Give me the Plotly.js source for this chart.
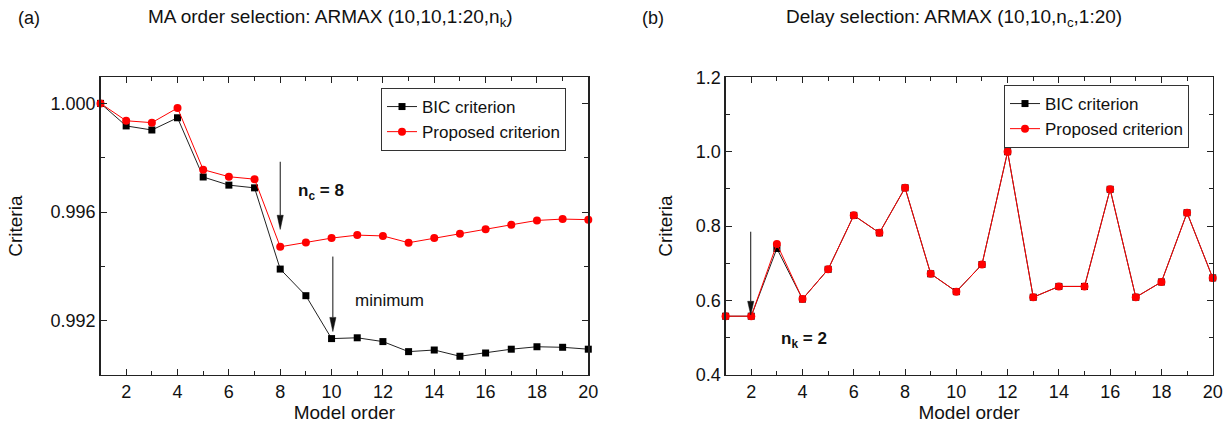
<!DOCTYPE html>
<html>
<head>
<meta charset="utf-8">
<script src="https://cdn.plot.ly/plotly-3.0.1.min.js"></script>
<style>html,body{margin:0;padding:0;background:#fff;}#chart{width:1228px;height:435px;}</style>
</head>
<body>
<div id="chart"></div>
<script>
// ---------- data ----------
const modelOrder = [1,2,3,4,5,6,7,8,9,10,11,12,13,14,15,16,17,18,19,20];

// (a) MA order selection
const maBIC = [1.0000,0.99917,0.99902,0.99947,0.99729,0.99699,0.99689,0.99390,0.99292,0.99134,
               0.99137,0.99123,0.99086,0.99092,0.99069,0.99081,0.99095,0.99104,0.99102,0.99095];
const maProposed = [1.0000,0.99936,0.99929,0.99983,0.99756,0.99730,0.99721,0.99472,0.99488,0.99504,
                    0.99515,0.99512,0.99487,0.99504,0.99520,0.99537,0.99553,0.99569,0.99574,0.99572];

// (b) Delay selection
const delayBIC = [0.558,0.558,0.740,0.604,0.684,0.829,0.782,0.903,0.672,0.624,
                  0.697,1.000,0.609,0.638,0.638,0.899,0.609,0.650,0.836,0.661];
const delayProposed = [0.558,0.558,0.752,0.604,0.684,0.829,0.782,0.903,0.672,0.624,
                       0.697,1.000,0.609,0.638,0.638,0.899,0.609,0.650,0.836,0.661];

const xTicks = [2,4,6,8,10,12,14,16,18,20];
const seriesNames = ['BIC criterion','Proposed criterion'];
const titleA = 'MA order selection: ARMAX (10,10,1:20,n<sub>k</sub>)';
const titleB = 'Delay selection: ARMAX (10,10,n<sub>c</sub>,1:20)';

// ---------- styling ----------
const FONT = 'Arial, "Liberation Sans", sans-serif';
const black = '#000000';
const red = '#ff0000';

function bicTrace(y, xa, ya, lg){
  return {x: modelOrder, y: y, xaxis: xa, yaxis: ya, legend: lg, name: seriesNames[0],
    mode: 'lines+markers', cliponaxis: false,
    line: {color: '#222', width: 1},
    marker: {symbol: 'square', size: 7, color: black}};
}
function propTrace(y, xa, ya, lg){
  return {x: modelOrder, y: y, xaxis: xa, yaxis: ya, legend: lg, name: seriesNames[1],
    mode: 'lines+markers', cliponaxis: false,
    line: {color: red, width: 1},
    marker: {symbol: 'circle', size: 8, color: red}};
}

const traces = [
  bicTrace(maBIC, 'x', 'y', 'legend'),
  propTrace(maProposed, 'x', 'y', 'legend'),
  bicTrace(delayBIC, 'x2', 'y2', 'legend2'),
  propTrace(delayProposed, 'x2', 'y2', 'legend2')
];

function xAxis(domain, anchor){
  return {domain: domain, anchor: anchor, range: [1,20], tickvals: xTicks,
    ticks: 'inside', ticklen: 6, tickwidth: 1, tickcolor: '#222',
    minor: {dtick: 1, tick0: 1, ticks: 'inside', ticklen: 4, tickcolor: '#222'},
    showline: true, linecolor: '#222', linewidth: 1.3, mirror: 'ticks',
    showgrid: false, zeroline: false,
    tickfont: {family: FONT, size: 18, color: '#111'},
    title: {text: 'Model order', font: {family: FONT, size: 19, color: '#111'}, standoff: 4}};
}
function yAxis(domain, anchor, range, tick0, dtick, mdtick, fmt, standoff){
  return {domain: domain, anchor: anchor, range: range, tick0: tick0, dtick: dtick,
    tickformat: fmt,
    ticks: 'inside', ticklen: 6, tickwidth: 1, tickcolor: '#222',
    minor: {dtick: mdtick, ticks: 'inside', ticklen: 4, tickcolor: '#222'},
    showline: true, linecolor: '#222', linewidth: 1.3, mirror: 'ticks',
    showgrid: false, zeroline: false,
    tickfont: {family: FONT, size: 18, color: '#111'},
    title: {text: 'Criteria', font: {family: FONT, size: 19, color: '#111'}, standoff: standoff}};
}

// vertical arrow drawn as shapes (line + filled head) in data coordinates
function arrowShapes(xa, ya, x, yTail, yTip, halfW, headLen){
  const dir = yTip < yTail ? 1 : -1;
  const yBase = yTip + dir * headLen;
  return [
    {type: 'line', xref: xa, yref: ya, x0: x, x1: x, y0: yTail, y1: yBase,
     line: {color: '#111', width: 1}},
    {type: 'path', xref: xa, yref: ya,
     path: `M ${x - halfW} ${yBase} L ${x + halfW} ${yBase} L ${x} ${yTip} Z`,
     fillcolor: '#111', line: {color: '#111', width: 0.5}}
  ];
}

const yDom = [60/435, 357.7/435];
const legendStyle = {font: {family: FONT, size: 17, color: '#111'},
  bordercolor: '#333', borderwidth: 1, bgcolor: '#fff', xanchor: 'left', yanchor: 'top',
  tracegroupgap: 0};

const layout = {
  width: 1228, height: 435,
  margin: {l: 0, r: 0, t: 0, b: 0},
  paper_bgcolor: '#fff', plot_bgcolor: '#fff',
  font: {family: FONT, color: '#111'},
  showlegend: true,
  xaxis: xAxis([100.5/1228, 588.3/1228], 'y'),
  yaxis: yAxis(yDom, 'x', [0.99000, 1.00096], 0.992, 0.004, 0.002, '.3f', 23),
  xaxis2: xAxis([725.6/1228, 1212.7/1228], 'y2'),
  yaxis2: yAxis(yDom, 'x2', [0.4, 1.2], 0.4, 0.2, 0.1, '.1f', 18),
  legend: Object.assign({x: 381/1228, y: 1 - 88/435}, legendStyle),
  legend2: Object.assign({x: 1004/1228, y: 1 - 85/435}, legendStyle),
  shapes: [].concat(
    arrowShapes('x', 'y', 8, 0.99785, 0.99536, 0.12, 0.00052),
    arrowShapes('x', 'y', 10.05, 0.99436, 0.99160, 0.12, 0.00052),
    arrowShapes('x2', 'y2', 1.98, 0.785, 0.561, 0.12, 0.037)
  ),
  annotations: [
    {xref: 'paper', yref: 'paper', x: 16/1228, y: 1 - 18/435, xanchor: 'left', yanchor: 'middle',
     text: '(a)', showarrow: false, font: {family: FONT, size: 18, color: '#111'}},
    {xref: 'paper', yref: 'paper', x: 330/1228, y: 1 - 18/435, xanchor: 'center', yanchor: 'middle',
     text: titleA, showarrow: false, font: {family: FONT, size: 19, color: '#111'}},
    {xref: 'paper', yref: 'paper', x: 640/1228, y: 1 - 18/435, xanchor: 'left', yanchor: 'middle',
     text: '(b)', showarrow: false, font: {family: FONT, size: 18, color: '#111'}},
    {xref: 'paper', yref: 'paper', x: 954/1228, y: 1 - 18/435, xanchor: 'center', yanchor: 'middle',
     text: titleB, showarrow: false, font: {family: FONT, size: 19, color: '#111'}},
    {xref: 'x', yref: 'y', x: 8.6, y: 0.99675, xanchor: 'left', yanchor: 'middle', showarrow: false,
     text: '<b>n<sub>c</sub> = 8</b>', font: {family: FONT, size: 17, color: '#111'}},
    {xref: 'x', yref: 'y', x: 10.85, y: 0.99276, xanchor: 'left', yanchor: 'middle', showarrow: false,
     text: 'minimum', font: {family: FONT, size: 17, color: '#111'}},
    {xref: 'x2', yref: 'y2', x: 3.1, y: 0.494, xanchor: 'left', yanchor: 'middle', showarrow: false,
     text: '<b>n<sub>k</sub> = 2</b>', font: {family: FONT, size: 17, color: '#111'}}
  ]
};

Plotly.newPlot('chart', traces, layout, {staticPlot: true, displayModeBar: false});
</script>
</body>
</html>
